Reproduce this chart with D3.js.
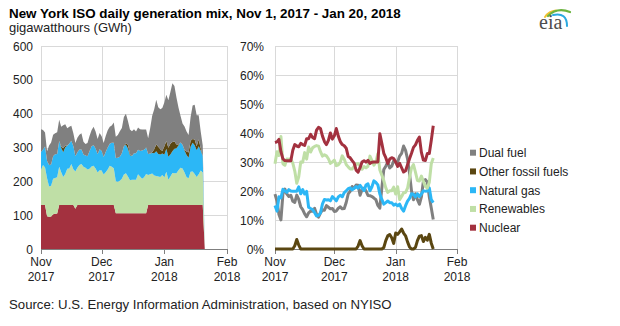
<!DOCTYPE html>
<html>
<head>
<meta charset="utf-8">
<script src="https://cdn.jsdelivr.net/npm/d3@7"></script>
<style>
body { margin: 0; background: #fff; }
svg { font-family: "Liberation Sans", Arial, sans-serif; }
</style>
</head>
<body>
<svg id="chart" width="620" height="326"></svg>
<script>
// daily generation, GWh, Nov 1 2017 .. Jan 20 2018 (last row = Jan 21, empty)
const firstDay = "2017-11-01"
const nuclear = [130,130,130,97,95,96,103,104,105,130,
  130,130,130,130,130,130,130,119,130,130,
  130,130,130,130,130,130,130,130,130,130,
  130,130,130,130,130,130,130,106,106,106,
  106,106,106,106,106,106,106,106,106,106,
  106,106,106,130,130,130,130,130,130,130,
  130,130,130,130,130,130,130,130,130,130,
  130,130,130,130,130,130,130,130,130,130,
  130,0]
const renewables = [104,118,111,112,90,91,105,106,107,113,
  97,83,92,107,108,121,106,110,110,118,
  121,113,110,105,107,114,116,108,96,103,
  102,90,97,105,116,113,109,94,93,96,
  102,114,118,108,97,99,99,99,115,108,
  102,106,116,89,91,93,87,86,84,83,
  89,82,98,75,84,95,94,94,103,110,
  108,96,82,79,98,99,92,83,91,102,
  96,0]
const naturalGas = [53,46,62,51,63,63,66,70,69,76,
  72,73,79,68,74,69,68,45,46,46,
  43,36,36,39,52,60,61,59,54,62,
  58,52,60,65,65,71,75,69,71,71,
  75,84,84,83,74,70,78,78,72,76,
  83,81,78,62,61,61,66,73,67,66,
  63,67,68,68,65,64,72,74,73,75,
  70,65,66,61,74,85,85,79,83,59,
  49,0]
const otherFossil = [0,0,0,0,0,0,0,0,0,0,
  4,12,5,0,0,0,0,0,0,0,
  0,0,0,0,0,0,0,0,0,0,
  0,0,0,0,0,0,0,0,0,0,
  0,0,4,11,4,0,0,0,0,0,
  0,0,0,0,0,2,12,20,21,16,
  8,24,23,26,32,27,22,11,3,0,
  0,2,10,15,18,11,17,12,20,7,
  0,0]
const dualFuel = [67,58,41,29,58,65,64,62,64,63,
  58,68,63,52,49,44,38,39,43,44,
  48,38,34,39,45,47,54,50,45,48,
  43,41,47,51,50,51,60,63,67,75,
  75,86,88,70,72,73,71,64,66,64,
  62,60,53,46,75,108,118,132,117,118,
  127,130,137,141,153,174,164,139,109,79,
  63,69,59,52,70,99,102,91,71,49,
  31,0]

const seriesNames = ["Dual fuel", "Other fossil fuels", "Natural gas", "Renewables", "Nuclear"]
const seriesKeys = ["dualFuel", "otherFossil", "naturalGas", "renewables", "nuclear"]
const seriesColors = ["#808080", "#5a4611", "#2cb7f6", "#bfdfa6", "#a3313f"]
const leftTicks = [0, 100, 200, 300, 400, 500, 600]
const rightTicks = [0, 0.1, 0.2, 0.3, 0.4, 0.5, 0.6, 0.7]

const values = {nuclear, renewables, naturalGas, otherFossil, dualFuel}
const color = d3.scaleOrdinal(seriesKeys, seriesColors)
const parseDate = d3.utcParse("%Y-%m-%d")
const day0 = parseDate(firstDay)
const rows = nuclear.map((v, i) => {
  const r = {date: d3.utcDay.offset(day0, i)}
  seriesKeys.forEach(k => r[k] = values[k][i])
  r.total = d3.sum(seriesKeys, k => r[k])
  return r
})

const svg = d3.select("#chart")
const plotTop = 46, plotBottom = 249
const domain = [parseDate("2017-11-01"), parseDate("2018-02-01")]
const months = d3.utcMonth.range(domain[0], d3.utcDay.offset(domain[1], 1))

const xL = d3.scaleUtc().domain(domain).range([41, 227])
const yL = d3.scaleLinear().domain([0, 600]).range([plotBottom, plotTop])
const xR = d3.scaleUtc().domain(domain).range([275, 457])
const yR = d3.scaleLinear().domain([0, 0.7]).range([plotBottom, plotTop])

function frame(x, y, ticks, fmt, labelX) {
  const g = svg.append("g").attr("shape-rendering", "crispEdges")
  g.selectAll(".h").data(ticks.slice(1)).join("line")
    .attr("x1", x.range()[0]).attr("x2", x.range()[1])
    .attr("y1", d => Math.round(y(d)) + 0.5).attr("y2", d => Math.round(y(d)) + 0.5)
    .attr("stroke", "#d9d9d9")
  g.selectAll(".v").data(months).join("line")
    .attr("x1", d => Math.round(x(d)) + 0.5).attr("x2", d => Math.round(x(d)) + 0.5)
    .attr("y1", plotTop).attr("y2", plotBottom)
    .attr("stroke", "#d9d9d9")
  svg.append("g").selectAll("text").data(ticks).join("text")
    .attr("x", labelX).attr("y", d => y(d) + 4.5)
    .attr("text-anchor", "end").attr("font-size", 12).attr("fill", "#222")
    .text(fmt)
  const lab = svg.append("g").selectAll("text").data(months).join("text")
    .attr("text-anchor", "middle").attr("font-size", 12).attr("fill", "#222")
  lab.append("tspan").attr("x", d => x(d)).attr("y", 266).text(d3.utcFormat("%b"))
  lab.append("tspan").attr("x", d => x(d)).attr("y", 280.5).text(d3.utcFormat("%Y"))
  return g
}

function baseAxis(x) {
  const g = svg.append("g").attr("shape-rendering", "crispEdges")
  g.append("line").attr("x1", x.range()[0]).attr("x2", x.range()[1])
    .attr("y1", plotBottom + 0.5).attr("y2", plotBottom + 0.5).attr("stroke", "#7f7f7f")
  g.selectAll(".t").data(months).join("line")
    .attr("x1", d => Math.round(x(d)) + 0.5).attr("x2", d => Math.round(x(d)) + 0.5)
    .attr("y1", plotBottom).attr("y2", plotBottom + 5).attr("stroke", "#7f7f7f")
}

// left: stacked areas
frame(xL, yL, leftTicks, d => d, 33)
const stackKeys = seriesKeys.slice().reverse()
const stacked = d3.stack().keys(stackKeys)(rows)
const area = d3.area()
  .x(d => xL(d.data.date)).y0(d => yL(d[0])).y1(d => yL(d[1]))
svg.append("g").selectAll("path").data(stacked).join("path")
  .attr("d", area).attr("fill", d => color(d.key))
baseAxis(xL)

// right: shares
frame(xR, yR, rightTicks, d3.format(".0%"), 264)
const shareRows = rows.filter(r => r.total > 0)
const line = key => d3.line()
  .x(r => xR(r.date)).y(r => yR(r[key] / r.total))
baseAxis(xR)
svg.append("g").selectAll("path").data(seriesKeys).join("path")
  .attr("d", k => line(k)(shareRows))
  .attr("fill", "none").attr("stroke", k => color(k))
  .attr("stroke-width", 3).attr("stroke-linejoin", "round")

// legend
const leg = svg.append("g").selectAll("g").data(seriesKeys).join("g")
  .attr("transform", (d, i) => `translate(470,${152.7 + i * 18.75})`)
leg.append("rect").attr("x", 0).attr("y", -3).attr("width", 6).attr("height", 6)
  .attr("fill", d => color(d))
leg.append("text").attr("x", 9).attr("y", 4.3).attr("font-size", 12).attr("fill", "#222")
  .text((d, i) => seriesNames[i])

// titles
svg.append("text").attr("x", 9).attr("y", 18).attr("font-size", 13.4).attr("font-weight", "bold")
  .text("New York ISO daily generation mix, Nov 1, 2017 - Jan 20, 2018")
svg.append("text").attr("x", 9).attr("y", 32).attr("font-size", 13).attr("fill", "#222")
  .text("gigawatthours (GWh)")
svg.append("text").attr("x", 9).attr("y", 308.5).attr("font-size", 13.2).attr("fill", "#222")
  .text("Source: U.S. Energy Information Administration, based on NYISO")

// eia logo
const logo = svg.append("g").attr("fill", "none").attr("stroke-linecap", "round")
logo.append("path").attr("d", "M545,17 Q549,11 556,10.5").attr("stroke", "#f2c230").attr("stroke-width", 2)
logo.append("path").attr("d", "M548,16 Q557,7 570,12").attr("stroke", "#6cb33f").attr("stroke-width", 2.2)
logo.append("path").attr("d", "M553,15 Q567,12 567,26").attr("stroke", "#2aa9e0").attr("stroke-width", 2)
svg.append("text").attr("x", 539).attr("y", 29).attr("font-family", "Liberation Serif, serif")
  .attr("font-size", 20).attr("fill", "#4d4d4d").text("eia")
</script>
</body>
</html>
